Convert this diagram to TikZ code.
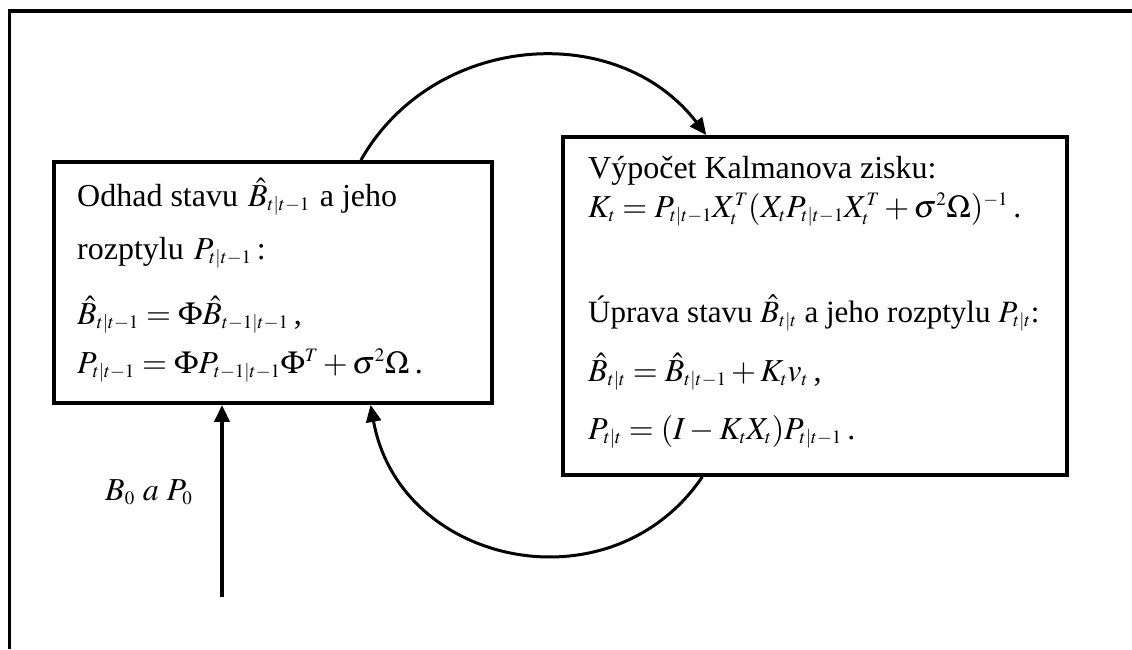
\documentclass[tikz,border=0pt]{standalone}
\usepackage{mathptmx}
\usepackage[no-math]{fontspec}
\setmainfont{Liberation Serif}
\DeclareMathSizes{32}{32}{19}{14}
\DeclareMathSizes{31}{31}{18.5}{13.5}
\usetikzlibrary{arrows.meta,calc}
\begin{document}
\begin{tikzpicture}[x=1pt,y=-1pt,
  box/.style={draw, line width=3.8pt, inner sep=0pt},
  txt/.style={anchor=base west, inner sep=0pt, font=\fontsize{32}{38}\selectfont},
  arr/.style={line width=3pt, -{Triangle[length=17pt,width=15pt]}}
]
\useasboundingbox (0,0) rectangle (1132,649);
% outer frame
\draw[line width=3.5pt] (9.7,649) -- (9.7,11) -- (1132,11);
% boxes
\node[box, minimum width=438pt, minimum height=241pt] (lbox) at (273,282.5) {};
\node[box, minimum width=504pt, minimum height=338pt] (rbox) at (815,306) {};
% left box text
\node[txt] (l1) at (77,206) {Odhad stavu \hspace{2pt}$\hat{B}_{t|t-1}$\hspace{2pt} a jeho};
\node[txt] (l2) at (77,259) {rozptylu \hspace{2pt}$P_{t|t-1}$\,:};
\node[txt] (l3) at (77,324) {$\hat{B}_{t|t-1} = \Phi\hat{B}_{t-1|t-1}$\,,};
\node[txt] (l4) at (77,373) {$P_{t|t-1} = \Phi P_{t-1|t-1}\Phi^{T} + \sigma^{2}\Omega$\,.};
% right box text
\node[txt] (r1) at (588,178) {Výpočet Kalmanova zisku:};
\node[txt] (r2) at (588,217) {$K_t = P_{t|t-1}X_t^T(X_tP_{t|t-1}X_t^T + \sigma^2\Omega)^{-1}$\,.};
\node[txt, font=\fontsize{31}{37}\selectfont] (r3) at (588,322) {Úprava stavu $\hat{B}_{t|t}$ a jeho rozptylu $P_{t|t}$:};
\node[txt] (r4) at (588,381) {$\hat{B}_{t|t} = \hat{B}_{t|t-1} + K_t v_t$\,,};
\node[txt] (r5) at (588,439) {$P_{t|t} = (I - K_tX_t)P_{t|t-1}$\,.};
% initial label
\node[txt] (b0) at (105,500) {$B_0\ a\ P_0$};
% connectors
\coordinate (start) at (222,597);
\draw[arr, line width=4pt] (start) -- (lbox.south -| start);
\draw[arr] ($(lbox.north west)!0.699!(lbox.north east)$) .. controls (433,33) and (617,19) .. ($(rbox.north west)!0.286!(rbox.north east)$);
\draw[arr] ($(rbox.south west)!0.278!(rbox.south east)$) .. controls (611,611) and (399.5,566) .. ($(lbox.south west)!0.721!(lbox.south east)$);
\end{tikzpicture}
\end{document}
